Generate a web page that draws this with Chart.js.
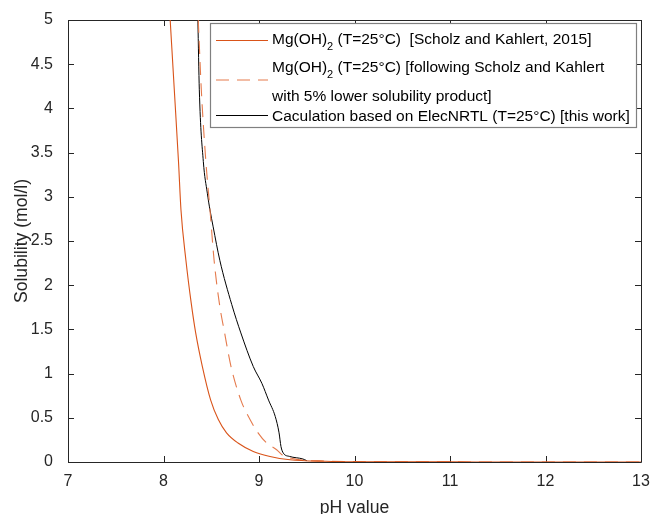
<!DOCTYPE html>
<html>
<head>
<meta charset="utf-8">
<script src="https://cdn.jsdelivr.net/npm/chart.js@4/dist/chart.umd.min.js"></script>
<style>
  html, body { margin: 0; padding: 0; background: #fff; }
  #wrap { width: 651px; height: 514px; }
</style>
</head>
<body>
<div id="wrap"><canvas id="c" width="651" height="514"></canvas></div>
<script>
// ---- Data ----
const phScholz  = [8.07, 8.113, 8.157, 8.183, 8.235, 8.29, 8.337, 8.407, 8.494, 8.574, 8.66, 8.78, 8.94, 9.115, 9.325, 9.7, 10, 11, 12, 13];
const solScholz = [5.0, 4.21, 3.40, 2.85, 2.28, 1.80, 1.46, 1.08, 0.70, 0.48, 0.33, 0.215, 0.12, 0.063, 0.026, 0.008, 0.003, 0.001, 0, 0];

const phLower   = [8.364, 8.396, 8.445, 8.487, 8.53, 8.587, 8.64, 8.707, 8.81, 8.906, 8.99, 9.08, 9.185, 9.24, 9.4, 9.71, 10, 11, 12, 13];
const solLower  = [5.0, 4.21, 3.38, 2.85, 2.28, 1.78, 1.46, 1.08, 0.70, 0.48, 0.33, 0.215, 0.139, 0.083, 0.03, 0.01, 0.004, 0.001, 0, 0];

const phElec    = [8.36, 8.375, 8.417, 8.459, 8.487, 8.52, 8.59, 8.715, 8.81, 8.94, 9.03, 9.10, 9.17, 9.21, 9.23, 9.255, 9.32, 9.46, 9.5];
const solElec   = [5.0, 4.21, 3.40, 3.04, 2.85, 2.66, 2.28, 1.78, 1.46, 1.08, 0.89, 0.70, 0.515, 0.33, 0.176, 0.10, 0.063, 0.034, 0.015];

const xTicks = [7, 8, 9, 10, 11, 12, 13];
const yTicks = [0, 0.5, 1, 1.5, 2, 2.5, 3, 3.5, 4, 4.5, 5];

const xTitle = 'pH value';
const yTitle = 'Solubility (mol/l)';

// legend rows: [prefix, subscript, suffix]
const legendRow1 = ['Mg(OH)', '2', ' (T=25°C)  [Scholz and Kahlert, 2015]'];
const legendRow2 = ['Mg(OH)', '2', ' (T=25°C) [following Scholz and Kahlert'];
const legendRow2b = 'with 5% lower solubility product]';
const legendRow3 = 'Caculation based on ElecNRTL (T=25°C) [this work]';

const ORANGE = '#D95319';
const ORANGE_DASH = '#E57A4C';
const BLACK = '#000000';
const AXIS = '#262626';
const FONT = '"Liberation Sans", Arial, Helvetica, sans-serif';

const toPts = (xs, ys) => xs.map((x, i) => ({ x: x, y: ys[i] }));

// ---- plugins ----
const boxTicks = {
  id: 'boxTicks',
  beforeDatasetsDraw(chart) {
    const { ctx, chartArea: a, scales } = chart;
    ctx.save();
    ctx.strokeStyle = AXIS;
    ctx.lineWidth = 1;
    ctx.beginPath();
    ctx.rect(Math.round(a.left) + 0.5, Math.round(a.top) + 0.5,
             Math.round(a.right - a.left), Math.round(a.bottom - a.top));
    ctx.stroke();
    const L = 6;
    ctx.beginPath();
    xTicks.forEach(v => {
      const px = Math.round(scales.x.getPixelForValue(v)) + 0.5;
      ctx.moveTo(px, a.bottom); ctx.lineTo(px, a.bottom - L);
      ctx.moveTo(px, a.top); ctx.lineTo(px, a.top + L);
    });
    yTicks.forEach(v => {
      const py = Math.round(scales.y.getPixelForValue(v)) + 0.5;
      ctx.moveTo(a.left, py); ctx.lineTo(a.left + L, py);
      ctx.moveTo(a.right, py); ctx.lineTo(a.right - L, py);
    });
    ctx.stroke();
    ctx.restore();
  }
};

function drawSubText(ctx, parts, x, y, size) {
  ctx.font = size + 'px ' + FONT;
  ctx.fillText(parts[0], x, y);
  let w = ctx.measureText(parts[0]).width;
  ctx.font = Math.round(size * 0.72) + 'px ' + FONT;
  ctx.fillText(parts[1], x + w, y + size * 0.42);
  w += ctx.measureText(parts[1]).width;
  ctx.font = size + 'px ' + FONT;
  ctx.fillText(parts[2], x + w, y);
}

const customLegend = {
  id: 'customLegend',
  afterDraw(chart) {
    const ctx = chart.ctx;
    ctx.save();
    const bx = 210.5, by = 23.5, bw = 426, bh = 104;
    ctx.fillStyle = '#ffffff';
    ctx.fillRect(bx, by, bw, bh);
    ctx.strokeStyle = '#808080';
    ctx.lineWidth = 1.2;
    ctx.strokeRect(bx, by, bw, bh);

    const lx0 = 216, lx1 = 268, tx = 272;
    ctx.lineWidth = 1;
    ctx.strokeStyle = ORANGE; ctx.setLineDash([]);
    ctx.beginPath(); ctx.moveTo(lx0, 40.5); ctx.lineTo(lx1, 40.5); ctx.stroke();
    ctx.strokeStyle = ORANGE_DASH; ctx.setLineDash([13, 8]);
    ctx.beginPath(); ctx.moveTo(lx0, 80); ctx.lineTo(lx1, 80); ctx.stroke();
    ctx.strokeStyle = BLACK; ctx.setLineDash([]);
    ctx.beginPath(); ctx.moveTo(lx0, 115.5); ctx.lineTo(lx1, 115.5); ctx.stroke();

    ctx.fillStyle = '#000000';
    ctx.textBaseline = 'middle';
    ctx.textAlign = 'left';
    const fs = 15.5;
    drawSubText(ctx, legendRow1, tx, 40, fs);
    drawSubText(ctx, legendRow2, tx, 68, fs);
    ctx.font = fs + 'px ' + FONT;
    ctx.fillText(legendRow2b, tx, 97);
    ctx.fillText(legendRow3, tx, 117);
    ctx.restore();
  }
};

new Chart(document.getElementById('c'), {
  type: 'scatter',
  data: {
    datasets: [
      {
        label: legendRow1.join(''),
        data: toPts(phScholz, solScholz),
        showLine: true, borderColor: ORANGE, borderWidth: 1.1,
        pointRadius: 0, fill: false, cubicInterpolationMode: 'monotone'
      },
      {
        label: legendRow2.join('') + ' ' + legendRow2b,
        data: toPts(phLower, solLower),
        showLine: true, borderColor: ORANGE_DASH, borderWidth: 1.1, borderDash: [13, 8],
        pointRadius: 0, fill: false, cubicInterpolationMode: 'monotone'
      },
      {
        label: legendRow3,
        data: toPts(phElec, solElec),
        showLine: true, borderColor: BLACK, borderWidth: 1,
        pointRadius: 0, fill: false, cubicInterpolationMode: 'monotone'
      }
    ]
  },
  options: {
    responsive: false,
    animation: false,
    devicePixelRatio: 1,
    layout: { padding: { top: 20, right: 10, left: 0, bottom: 0 } },
    plugins: { legend: { display: false }, tooltip: { enabled: false } },
    scales: {
      x: {
        type: 'linear', min: 7, max: 13,
        afterBuildTicks: s => { s.ticks = xTicks.map(v => ({ value: v })); },
        afterFit: s => { s.height = 52; s.paddingLeft = 0; s.paddingRight = 0; },
        grid: { display: false, drawTicks: false },
        border: { display: false },
        ticks: { color: AXIS, font: { family: FONT, size: 16 }, padding: 10, maxRotation: 0,
                 callback: v => String(v) },
        title: { display: true, text: xTitle, color: AXIS, font: { family: FONT, size: 17.6 }, padding: { top: 0, bottom: -5 } }
      },
      y: {
        type: 'linear', min: 0, max: 5,
        afterBuildTicks: s => { s.ticks = yTicks.map(v => ({ value: v })); },
        afterFit: s => { s.width = 68; s.paddingTop = 0; s.paddingBottom = 0; },
        grid: { display: false, drawTicks: false },
        border: { display: false },
        ticks: { color: AXIS, font: { family: FONT, size: 16 }, padding: 15,
                 callback: v => String(v) },
        title: { display: true, text: yTitle, color: AXIS, font: { family: FONT, size: 17.6 }, padding: { top: 12, bottom: 0 } }
      }
    }
  },
  plugins: [boxTicks, customLegend]
});
</script>
</body>
</html>
